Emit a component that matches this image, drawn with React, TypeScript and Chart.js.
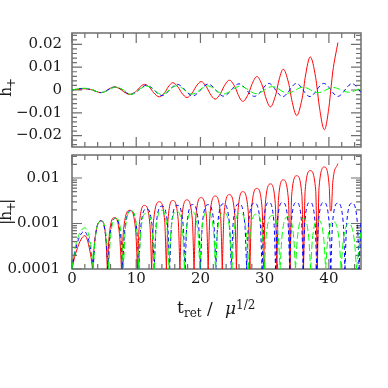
import React, { useEffect, useRef } from 'react';
import { Chart, registerables } from 'chart.js';

Chart.register(...registerables);

// ---------- axis ranges & ticks ----------
const X_MIN = 0;
const X_MAX = 45;
const xMajorTicks = [0, 10, 20, 30, 40];
const xTickLabels = ['0', '10', '20', '30', '40'];
const X_MINOR_STEP = 2;

const TOP_Y_MIN = -0.025;
const TOP_Y_MAX = 0.025;
const topYMajorTicks = [-0.02, -0.01, 0, 0.01, 0.02];
const topYTickLabels = ['\u22120.02', '\u22120.01', '0', '0.01', '0.02'];
const TOP_Y_MINOR_STEP = 0.002;

const BOT_Y_MIN = 1e-4;
const BOT_Y_MAX = 0.032;
const botYMajorTicks = [1e-4, 1e-3, 1e-2];
const botYTickLabels = ['0.0001', '0.001', '0.01'];

// ---------- series: [t_ret / mu^(1/2), h+] (zero crossings, shoulders, extrema) ----------
const redPts: [number, number][] = [
  [0, 0], [0.5, 2.05e-4], [2.0, 5.4e-4], [2.9, 2.05e-4],
  [3.2, 0], [3.55, -4.4e-4], [4.6, -1.15e-3], [5.28, -4.4e-4],
  [5.5, 0], [5.78, 5.1e-4], [6.6, 1.35e-3], [7.43, 5.1e-4],
  [7.7, 0], [8.03, -7.4e-4], [9.0, -1.95e-3], [9.9, -7.4e-4],
  [10.2, 0], [10.48, 9.5e-4], [11.3, 2.5e-3], [12.13, 9.5e-4],
  [12.4, 0], [12.7, -1.14e-3], [13.6, -3.0e-3], [14.43, -1.14e-3],
  [14.7, 0], [14.95, 1.22e-3], [15.7, 3.2e-3], [16.53, 1.22e-3],
  [16.8, 0], [17.08, -1.25e-3], [17.9, -3.3e-3], [18.73, -1.25e-3],
  [19.0, 0], [19.28, 1.4e-3], [20.1, 3.7e-3], [20.93, 1.4e-3],
  [21.2, 0], [21.48, -1.52e-3], [22.3, -4.0e-3], [23.13, -1.52e-3],
  [23.4, 0], [23.68, 1.63e-3], [24.5, 4.3e-3], [25.33, 1.63e-3],
  [25.6, 0], [25.85, -1.9e-3], [26.6, -5.0e-3], [27.43, -1.9e-3],
  [27.7, 0], [27.98, 2.24e-3], [28.8, 5.9e-3], [29.59, 2.24e-3],
  [29.85, 0], [30.11, -2.8e-3], [30.9, -7.4e-3], [31.65, -2.8e-3],
  [31.9, 0], [32.15, 3.46e-3], [32.9, 9.1e-3], [33.69, 3.46e-3],
  [33.95, 0], [34.21, -4.26e-3], [35.0, -1.12e-2], [35.79, -4.26e-3],
  [36.05, 0], [36.31, 5.5e-3], [37.1, 1.45e-2], [37.94, 5.5e-3],
  [38.2, 0], [38.48, -6.6e-3], [39.3, -1.74e-2], [40.05, -6.6e-3],
  [40.23, -1.9e-3], [40.37, 1.9e-3], [40.6, 7.9e-3], [41.4, 2.08e-2],
];

const bluePts: [number, number][] = [
  [0, 0], [0.48, 2.5e-4], [1.9, 6.7e-4], [2.95, 2.5e-4],
  [3.3, 0], [3.59, -4.4e-4], [4.45, -1.15e-3], [5.31, -4.4e-4],
  [5.6, 0], [5.89, 4.9e-4], [6.75, 1.3e-3], [7.61, 4.9e-4],
  [7.9, 0], [8.21, -7.2e-4], [9.15, -1.9e-3], [10.09, -7.2e-4],
  [10.4, 0], [10.7, 8.0e-4], [11.6, 2.1e-3], [12.5, 8.0e-4],
  [12.8, 0], [13.1, -9.1e-4], [14.0, -2.4e-3], [14.9, -9.1e-4],
  [15.2, 0], [15.5, 9.5e-4], [16.4, 2.5e-3], [17.3, 9.5e-4],
  [17.6, 0], [17.9, -9.9e-4], [18.8, -2.6e-3], [19.7, -9.9e-4],
  [20.0, 0], [20.3, 9.9e-4], [21.2, 2.6e-3], [22.1, 9.9e-4],
  [22.4, 0], [22.7, -1.03e-3], [23.6, -2.7e-3], [24.5, -1.03e-3],
  [24.8, 0], [25.1, 1.03e-3], [26.0, 2.7e-3], [26.9, 1.03e-3],
  [27.2, 0], [27.5, -1.06e-3], [28.4, -2.8e-3], [29.3, -1.06e-3],
  [29.6, 0], [29.86, 1.1e-3], [30.65, 2.9e-3], [31.44, 1.1e-3],
  [31.7, 0], [31.98, -1.1e-3], [32.8, -2.9e-3], [33.63, -1.1e-3],
  [33.9, 0], [34.16, 1.1e-3], [34.95, 2.9e-3], [35.74, 1.1e-3],
  [36.0, 0], [36.26, -1.1e-3], [37.05, -2.9e-3], [37.84, -1.1e-3],
  [38.1, 0], [38.38, 1.1e-3], [39.2, 2.9e-3], [40.03, 1.1e-3],
  [40.3, 0], [40.58, -1.06e-3], [41.4, -2.8e-3], [42.23, -1.06e-3],
  [42.5, 0], [42.78, 1.06e-3], [43.6, 2.8e-3], [44.43, 1.06e-3],
  [44.7, 0], [45.0, -1.15e-3],
];

const greenPts: [number, number][] = [
  [0, 0], [0.5, 3.0e-4], [2.0, 8.0e-4], [2.98, 3.0e-4],
  [3.3, 0], [3.6, -4.4e-4], [4.5, -1.15e-3], [5.4, -4.4e-4],
  [5.7, 0], [5.99, 4.9e-4], [6.85, 1.3e-3], [7.71, 4.9e-4],
  [8.0, 0], [8.3, -7.2e-4], [9.2, -1.9e-3], [10.1, -7.2e-4],
  [10.4, 0], [10.7, 6.5e-4], [11.6, 1.7e-3], [12.5, 6.5e-4],
  [12.8, 0], [13.09, -7.4e-4], [13.95, -1.95e-3], [14.81, -7.4e-4],
  [15.1, 0], [15.4, 7.0e-4], [16.3, 1.85e-3], [17.2, 7.0e-4],
  [17.5, 0], [17.8, -6.8e-4], [18.7, -1.8e-3], [19.6, -6.8e-4],
  [19.9, 0], [20.2, 6.8e-4], [21.1, 1.8e-3], [22.04, 6.8e-4],
  [22.35, 0], [22.66, -6.7e-4], [23.6, -1.75e-3], [24.58, -6.7e-4],
  [24.9, 0], [25.23, 6.5e-4], [26.2, 1.7e-3], [27.14, 6.5e-4],
  [27.45, 0], [27.76, -6.1e-4], [28.7, -1.6e-3], [29.64, -6.1e-4],
  [29.95, 0], [30.26, 5.7e-4], [31.2, 1.5e-3], [32.1, 5.7e-4],
  [32.4, 0], [32.7, -5.3e-4], [33.6, -1.4e-3], [34.5, -5.3e-4],
  [34.8, 0], [35.1, 4.9e-4], [36.0, 1.3e-3], [36.86, 4.9e-4],
  [37.15, 0], [37.44, -4.6e-4], [38.3, -1.2e-3], [39.2, -4.6e-4],
  [39.5, 0], [39.8, 4.2e-4], [40.7, 1.1e-3], [41.6, 4.2e-4],
  [41.9, 0], [42.2, -3.8e-4], [43.1, -1.0e-3], [44.0, -3.8e-4],
  [44.3, 0], [45.0, 7.0e-4],
];

// ---------- styles ----------
const FONT = 'DejaVu Serif';
const AXIS_COLOR = '#6e6e6e';
const TEXT_COLOR = '#1a1a1a';
const RED = '#ff0000';
const BLUE = '#0000ff';
const GREEN = '#00ff00';

// ---------- helpers ----------
function linearTicks(min: number, max: number, step: number): number[] {
  const out: number[] = [];
  const n0 = Math.ceil(min / step - 1e-9);
  const n1 = Math.floor(max / step + 1e-9);
  for (let i = n0; i <= n1; i++) out.push(+(i * step).toFixed(10));
  return out;
}
function logTicks(min: number, max: number): number[] {
  const out: number[] = [];
  for (let d = Math.floor(Math.log10(min)); d <= Math.ceil(Math.log10(max)); d++) {
    for (let m = 1; m <= 9; m++) {
      const v = +(m * Math.pow(10, d)).toPrecision(6);
      if (v >= min * (1 - 1e-9) && v <= max * (1 + 1e-9)) out.push(v);
    }
  }
  return out;
}
function majorIndex(v: number, majors: number[]): number {
  return majors.findIndex((m) => Math.abs(m - v) <= Math.abs(m) * 1e-6 + 1e-12);
}

const xAllTicks = linearTicks(X_MIN, X_MAX, X_MINOR_STEP);
const topYAllTicks = linearTicks(TOP_Y_MIN, TOP_Y_MAX, TOP_Y_MINOR_STEP);
const botYAllTicks = logTicks(BOT_Y_MIN, BOT_Y_MAX);

type Part = { text: string; x: number; y: number; size: number; italic?: boolean };

function framePlugin(xTicks: number[], xMajors: number[], yTicks: number[], yMajors: number[]) {
  return {
    id: 'frameTicks',
    beforeDatasetsDraw(chart: any) {
      const { ctx, chartArea: a, scales } = chart;
      const xs = scales.x;
      const ys = scales.y;
      ctx.save();
      ctx.strokeStyle = AXIS_COLOR;
      ctx.lineWidth = 1.2;
      ctx.beginPath();
      for (const v of xTicks) {
        const px = xs.getPixelForValue(v);
        const len = majorIndex(v, xMajors) >= 0 ? 10 : 5;
        ctx.moveTo(px, a.bottom);
        ctx.lineTo(px, a.bottom - len);
        ctx.moveTo(px, a.top);
        ctx.lineTo(px, a.top + len);
      }
      for (const v of yTicks) {
        const py = ys.getPixelForValue(v);
        const len = majorIndex(v, yMajors) >= 0 ? 10 : 5;
        ctx.moveTo(a.left, py);
        ctx.lineTo(a.left + len, py);
        ctx.moveTo(a.right, py);
        ctx.lineTo(a.right - len, py);
      }
      ctx.stroke();
      ctx.lineWidth = 1.5;
      ctx.strokeRect(a.left, a.top, a.right - a.left, a.bottom - a.top);
      ctx.restore();
    },
  };
}

function titlePlugin(rotated: Part[], rotCenter: [number, number], horiz: Part[]) {
  return {
    id: 'titles',
    afterDraw(chart: any) {
      const ctx = chart.ctx as CanvasRenderingContext2D;
      ctx.save();
      ctx.fillStyle = TEXT_COLOR;
      ctx.textBaseline = 'alphabetic';
      ctx.textAlign = 'left';
      if (rotated.length) {
        ctx.save();
        ctx.translate(rotCenter[0], rotCenter[1]);
        ctx.rotate(-Math.PI / 2);
        for (const p of rotated) {
          ctx.font = `${p.italic ? 'italic ' : ''}${p.size}px "${FONT}"`;
          ctx.fillText(p.text, p.x, p.y);
        }
        ctx.restore();
      }
      for (const p of horiz) {
        ctx.font = `${p.italic ? 'italic ' : ''}${p.size}px "${FONT}"`;
        ctx.fillText(p.text, p.x, p.y);
      }
      ctx.restore();
    },
  };
}

// linear panel: the signed values; log panel: |h+|, each lobe drawn as its own
// piece that ends on the bottom axis at the zero crossing.
function toLinear(pts: [number, number][]) {
  return pts.map(([t, h]) => ({ x: t, y: h }));
}
function toLog(pts: [number, number][]) {
  const out: { x: number; y: number | null }[] = [];
  pts.forEach(([t, h], i) => {
    if (h === 0) {
      if (i > 0) out.push({ x: t, y: BOT_Y_MIN });
      if (i > 0 && i < pts.length - 1) out.push({ x: t, y: null });
      if (i < pts.length - 1) out.push({ x: t, y: BOT_Y_MIN });
    } else {
      out.push({ x: t, y: Math.abs(h) });
    }
  });
  return out;
}

function makeDatasets(logMode: boolean) {
  const conv = logMode ? toLog : toLinear;
  const common = {
    borderWidth: 1,
    pointRadius: 0,
    fill: false,
    spanGaps: false,
    cubicInterpolationMode: 'monotone' as const,
    clip: 0,
  };
  return [
    { ...common, label: 'green', data: conv(greenPts), borderColor: GREEN, borderDash: [7, 3], order: 0 },
    { ...common, label: 'blue', data: conv(bluePts), borderColor: BLUE, borderDash: [4, 3], order: 1 },
    { ...common, label: 'red', data: conv(redPts), borderColor: RED, order: 2 },
  ];
}

const tickFont = { family: FONT, size: 15 };

function fixSize(prop: 'width' | 'height', size: number) {
  return (s: any) => {
    s[prop] = size;
    s.paddingTop = 0;
    s.paddingBottom = 0;
    s.paddingLeft = 0;
    s.paddingRight = 0;
  };
}

export default function App() {
  const topRef = useRef<HTMLCanvasElement>(null);
  const botRef = useRef<HTMLCanvasElement>(null);

  useEffect(() => {
    const topChart = new Chart(topRef.current!, {
      type: 'line',
      data: { datasets: makeDatasets(false) as any },
      options: {
        animation: false,
        responsive: false,
        events: [],
        layout: { autoPadding: false, padding: { left: 0, right: 27, top: 33, bottom: 0 } },
        plugins: { legend: { display: false }, tooltip: { enabled: false } },
        scales: {
          x: {
            type: 'linear',
            min: X_MIN,
            max: X_MAX,
            grid: { display: false, drawTicks: false },
            border: { display: false },
            ticks: { display: false },
            afterBuildTicks: (s: any) => { s.ticks = xAllTicks.map((v) => ({ value: v })); },
            afterFit: fixSize('height', 3),
          },
          y: {
            type: 'linear',
            min: TOP_Y_MIN,
            max: TOP_Y_MAX,
            grid: { display: false, drawTicks: false },
            border: { display: false },
            ticks: {
              autoSkip: false,
              padding: 10,
              color: TEXT_COLOR,
              font: tickFont,
              callback: (v: any) => {
                const i = majorIndex(Number(v), topYMajorTicks);
                return i >= 0 ? topYTickLabels[i] : '';
              },
            },
            afterBuildTicks: (s: any) => { s.ticks = topYAllTicks.map((v) => ({ value: v })); },
            afterFit: fixSize('width', 72),
          },
        },
      } as any,
      plugins: [
        framePlugin(xAllTicks, xMajorTicks, topYAllTicks, topYMajorTicks),
        titlePlugin(
          [
            { text: 'h', x: -7, y: 0, size: 16 },
            { text: '+', x: 2, y: 4, size: 12 },
          ],
          [11, 90],
          []
        ),
      ],
    });

    const botChart = new Chart(botRef.current!, {
      type: 'line',
      data: { datasets: makeDatasets(true) as any },
      options: {
        animation: false,
        responsive: false,
        events: [],
        layout: { autoPadding: false, padding: { left: 0, right: 27, top: 5, bottom: 0 } },
        plugins: { legend: { display: false }, tooltip: { enabled: false } },
        scales: {
          x: {
            type: 'linear',
            min: X_MIN,
            max: X_MAX,
            grid: { display: false, drawTicks: false },
            border: { display: false },
            ticks: {
              autoSkip: false,
              maxRotation: 0,
              padding: 1,
              color: TEXT_COLOR,
              font: tickFont,
              callback: (v: any) => {
                const i = majorIndex(Number(v), xMajorTicks);
                return i >= 0 ? xTickLabels[i] : '';
              },
            },
            afterBuildTicks: (s: any) => { s.ticks = xAllTicks.map((v) => ({ value: v })); },
            afterFit: fixSize('height', 119),
          },
          y: {
            type: 'logarithmic',
            min: BOT_Y_MIN,
            max: BOT_Y_MAX,
            grid: { display: false, drawTicks: false },
            border: { display: false },
            ticks: {
              autoSkip: false,
              padding: 12,
              color: TEXT_COLOR,
              font: tickFont,
              callback: (v: any) => {
                const i = majorIndex(Number(v), botYMajorTicks);
                return i >= 0 ? botYTickLabels[i] : '';
              },
            },
            afterBuildTicks: (s: any) => { s.ticks = botYAllTicks.map((v) => ({ value: v })); },
            afterFit: fixSize('width', 72),
          },
        },
      } as any,
      plugins: [
        framePlugin(xAllTicks, xMajorTicks, botYAllTicks, botYMajorTicks),
        titlePlugin(
          [
            { text: '|', x: -13, y: 0, size: 16 },
            { text: 'h', x: -9, y: 0, size: 16 },
            { text: '+', x: 0, y: 4, size: 12 },
            { text: '|', x: 8, y: 0, size: 16 },
          ],
          [11, 62],
          [
            { text: 't', x: 177, y: 163, size: 17 },
            { text: 'ret', x: 184, y: 167, size: 12 },
            { text: '/', x: 207, y: 164, size: 17 },
            { text: '\u03bc', x: 225, y: 164, size: 17, italic: true },
            { text: '1/2', x: 236, y: 159, size: 12 },
          ]
        ),
      ],
    });

    return () => {
      topChart.destroy();
      botChart.destroy();
    };
  }, []);

  return (
    <div style={{ position: 'absolute', left: 0, top: 0, width: 388, height: 388, background: '#ffffff' }}>
      <canvas
        ref={topRef}
        width={388}
        height={150}
        style={{ position: 'absolute', left: 0, top: 0, width: 388, height: 150 }}
      />
      <canvas
        ref={botRef}
        width={388}
        height={238}
        style={{ position: 'absolute', left: 0, top: 150, width: 388, height: 238 }}
      />
    </div>
  );
}
